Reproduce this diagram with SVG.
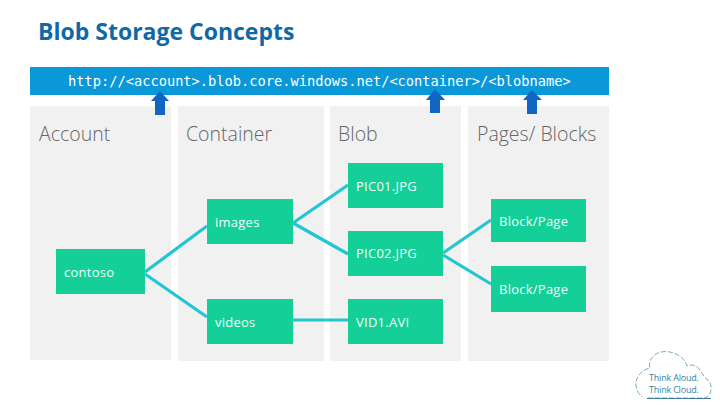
<svg xmlns="http://www.w3.org/2000/svg" width="720" height="405" viewBox="0 0 720 405">
<style>
.panel{fill:#f1f1f1}
.box{fill:#14cf97}
.head{font:300 19.5px "Open Sans",sans-serif;fill:#666}
.lab{font:400 13px "Open Sans",sans-serif;fill:#f2fff9;letter-spacing:.25px}
.conn line{stroke:#22c6d2;stroke-width:3.2}
.arrow{fill:#1166c4}
.logo{font:400 9px "Open Sans",sans-serif;fill:#3d7f9c;letter-spacing:-.2px}
</style>
<rect width="720" height="405" fill="#fff"/>
<text id="title" x="38" y="40" font-family="Open Sans, sans-serif" font-weight="700" font-size="23" fill="#0f69a6">Blob Storage Concepts</text>
<g id="url-bar"><rect x="30" y="67" width="579" height="28" fill="#0a98d8"/>
<text x="68" y="86" font-family="DejaVu Sans Mono, monospace" font-size="13.7" font-weight="400" fill="#fff">http://&lt;account&gt;.blob.core.windows.net/&lt;container&gt;/&lt;blobname&gt;</text></g>
<g id="panel-account"><rect class="panel" x="30" y="106" width="141" height="254"/><text class="head" x="39" y="141">Account</text></g>
<g id="panel-container"><rect class="panel" x="178" y="106" width="146" height="255"/><text class="head" x="186" y="141">Container</text></g>
<g id="panel-blob"><rect class="panel" x="330" y="106" width="131" height="255"/><text class="head" x="338" y="141">Blob</text></g>
<g id="panel-pages"><rect class="panel" x="468" y="106" width="141" height="255"/><text class="head" x="477" y="141">Pages/ Blocks</text></g>
<g id="arrows">
<polygon class="arrow" points="160,91 169,101 165,101 165,115 155,115 155,101 151,101"/>
<polygon class="arrow" points="435,89 445,100 440,100 440,113 430,113 430,100 426,100"/>
<polygon class="arrow" points="532,90 542,100 537,100 537,114 527,114 527,100 523,100"/>
</g>
<g id="connectors" class="conn">
<line x1="145" y1="272" x2="207" y2="226"/>
<line x1="145" y1="274" x2="207" y2="317"/>
<line x1="293" y1="223" x2="348" y2="185"/>
<line x1="293" y1="223" x2="348" y2="254"/>
<line x1="293" y1="320" x2="348" y2="320"/>
<line x1="443" y1="253" x2="491" y2="220"/>
<line x1="443" y1="255" x2="491" y2="284"/>
</g>
<g id="contoso"><rect class="box" x="56" y="249" width="89" height="45"/><text class="lab" x="64" y="277">contoso</text></g>
<g id="images"><rect class="box" x="207" y="199" width="86" height="45"/><text class="lab" x="215" y="227">images</text></g>
<g id="videos"><rect class="box" x="207" y="299" width="86" height="45"/><text class="lab" x="215" y="327">videos</text></g>
<g id="pic01"><rect class="box" x="348" y="163" width="95" height="45"/><text class="lab" x="356" y="191">PIC01.JPG</text></g>
<g id="pic02"><rect class="box" x="348" y="231" width="95" height="45"/><text class="lab" x="356" y="258">PIC02.JPG</text></g>
<g id="vid1"><rect class="box" x="348" y="299" width="95" height="45"/><text class="lab" x="356" y="327">VID1.AVI</text></g>
<g id="block1"><rect class="box" x="491" y="199" width="95" height="43"/><text class="lab" x="499" y="226">Block/Page</text></g>
<g id="block2"><rect class="box" x="491" y="266" width="95" height="46"/><text class="lab" x="499" y="294">Block/Page</text></g>
<g id="logo"><path d="M648 398 H705 C712 396 713 385 708 380 C703 377 703 374 700 370 C697 365 690 364 687 366 C684 356 672 350 661 352 C652 354 648 362 650 368 C641 370 635 378 636 386 C637 392 640 395 642 397" fill="none" stroke="#5b93ab" stroke-width=".8" stroke-dasharray="5 2"/>
<path d="M647 398.500 H711" fill="none" stroke="#3d7f9c" stroke-width="1"/>
<text class="logo" x="649" y="381">Think Aloud.</text><text class="logo" x="649" y="393">Think Cloud.</text></g>
</svg>
